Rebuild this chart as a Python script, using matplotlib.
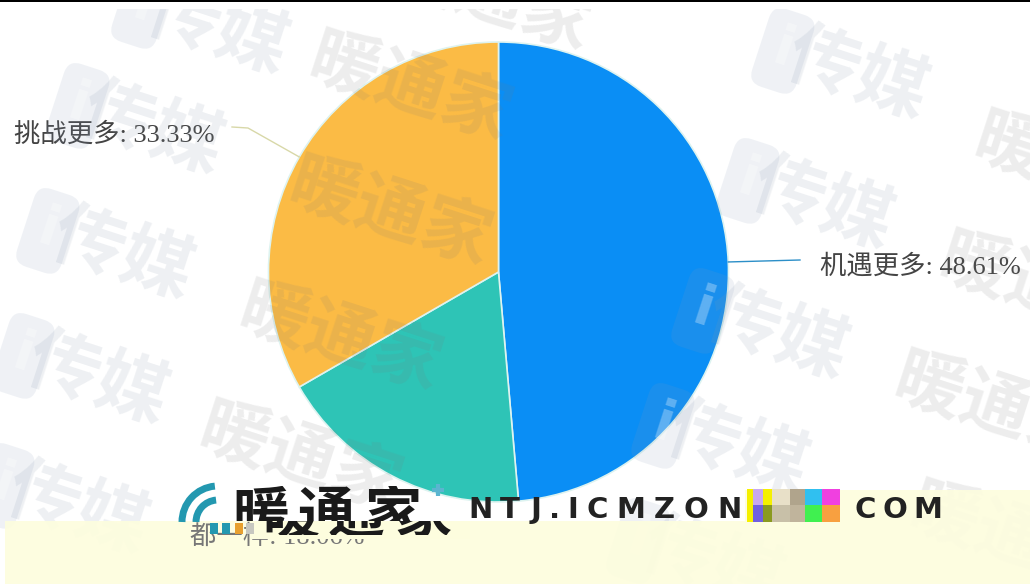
import matplotlib
matplotlib.use('Agg')
import matplotlib.pyplot as plt
import numpy as np
from matplotlib.font_manager import FontProperties
from matplotlib.patches import Arc, Rectangle
from matplotlib.textpath import TextPath

# datos del pastel
categories = ['机遇更多', '都一样', '挑战更多']
values = [48.61, 18.06, 33.33]
colors = ['#0A8EF5', '#2EC4B6', '#FBBB45']

# marcas de agua (px de la imagen)
wm_i = [(195, 30), (130, 130), (100, 255), (75, 380), (55, 510), (835, 75), (800, 205), (755, 335), (715, 450), (690, 565)]
wm_n = [(490, 0), (410, 90), (390, 215), (340, 340), (300, 460), (1075, 170), (1040, 290), (995, 410), (1010, 540)]

# bloques de color rotos del logo
glitch_x = [747, 753, 763, 772, 790, 805, 822]
glitch_w = [6, 10, 9, 18, 15, 17, 18]
glitch_top = ['#F5F000', '#C8A8F0', '#F5F000', '#E8E0C8', '#B0A48C', '#30C0F0', '#F040E0']
glitch_bot = ['#F5F000', '#7060E0', '#8A9A20', '#C8C0A8', '#C0B49C', '#40F050', '#F8A040']

W, H = 1030, 584
BAND = '#FDFDDE'
fig = plt.figure(figsize=(W / 100, H / 100), dpi=100)
ax = fig.add_axes([0, 0, 1, 1])


def py(y):
    return H - y


def logo(x, y, s, size, step, clip_top, clip_bot):
    # caracteres separados y recortados en vertical
    for ch in s:
        t = ax.text(x, py(y), ch, family='Noto Sans CJK SC', fontsize=size, fontweight='bold',
                    color='#1A1A1A', va='baseline', ha='left', zorder=7)
        t.set_clip_on(True)
        t.set_clip_path(Rectangle((0, py(clip_bot)), W, clip_bot - clip_top, transform=ax.transData))
        x += step


def spaced(x, y, s, size, gap):
    fp = FontProperties(family='DejaVu Sans', weight='bold')
    for ch in s:
        ax.text(x, py(y), ch, fontproperties=fp, fontsize=size, color='#222222',
                va='baseline', ha='left', zorder=7)
        x += TextPath((0, 0), ch, size=size * 100 / 72, prop=fp).get_extents().x1 + gap


CJK = ['Liberation Serif', 'Noto Sans CJK SC']
cx, cy, r = 498.5, py(272), 230

ax.pie(values, colors=colors, startangle=90, counterclock=False,
       center=(cx, cy), radius=r, frame=True,
       wedgeprops=dict(edgecolor='#DDF3F0', linewidth=1.2))
ax.set_xlim(0, W)
ax.set_ylim(0, H)
ax.set_aspect('auto')
ax.axis('off')

# lineas guia y etiquetas
ang = 90 - 3.6 * values[0] / 2
x0, y0 = cx + r * np.cos(np.radians(ang)), cy + r * np.sin(np.radians(ang))
ax.plot([x0, 800], [y0, py(260)], color='#2C8FC8', lw=1)
ax.text(820, py(266), f'{categories[0]}: {values[0]}%', family=CJK, fontsize=19,
        color='#444444', va='center', ha='left')

ang = 90 + 3.6 * values[2] / 2
x0, y0 = cx + r * np.cos(np.radians(ang)), cy + r * np.sin(np.radians(ang))
ax.plot([x0, 248, 232], [y0, py(128), py(127)], color='#D8D8A8', lw=1)
ax.text(14, py(135), f'{categories[2]}: {values[2]}%', family=CJK, fontsize=19,
        color='#444444', va='center', ha='left')

# marcas de agua
rot = np.radians(-18)
for x, y in wm_i:
    dx, dy = -78 * np.cos(rot), -78 * np.sin(rot)
    ax.text(x + 22, py(y), '传媒', family='Noto Sans CJK SC', fontsize=52, fontweight='bold',
            color='#8898AA', alpha=0.14, rotation=-18, ha='center', va='center')
    ax.text(x + 22 + dx, py(y) + dy, 'i', family='DejaVu Sans', fontsize=40, fontweight='bold',
            color=(1, 1, 1, 0.3), rotation=-18, ha='center', va='center',
            bbox=dict(boxstyle='round,pad=0.25', fc=(0.53, 0.6, 0.72, 0.13), lw=0))
for x, y in wm_n:
    ax.text(x, py(y), '暖通家', family='Noto Sans CJK SC', fontsize=50, fontweight='bold',
            color='#777777', alpha=0.13, rotation=-18, ha='center', va='center')

# margen blanco arriba
ax.add_patch(Rectangle((0, py(9)), W, 9, color='white', lw=0, zorder=4))

# banda amarilla inferior
ax.add_patch(Rectangle((5, 0), W - 5, py(521), color=BAND, alpha=0.93, lw=0, zorder=5))
ax.add_patch(Rectangle((745, py(521)), W - 745, 31, color=BAND, alpha=0.93, lw=0, zorder=5))

ax.text(190, py(537), f'{categories[1]}: {values[1]}%', family=CJK, fontsize=19,
        color='#777777', va='center', ha='left', zorder=6)
ax.add_patch(Rectangle((250, py(539)), 220, 18, color=BAND, lw=0, zorder=6))

# logo: parte de arriba y tira desplazada debajo
logo(232, 533, '暖通家', 41, 66, 486, 521)
logo(262, 533, '暖通家', 41, 66, 521, 535)
spaced(468, 518, 'NTJ.ICMZON', 21, 10.5)
spaced(855, 518, 'COM', 21, 8)

# icono de ondas
for rad, lw in [(36, 5), (22, 5)]:
    ax.add_patch(Arc((218, py(522)), 2 * rad, 2 * rad, theta1=95, theta2=180,
                     color='#2398B0', lw=lw, zorder=7))
ax.scatter([438], [py(490)], marker='+', s=70, color='#5BB5D0', lw=3, zorder=7)
for x, c in zip([210, 222, 235, 246], ['#2398B0', '#2398B0', '#E8A030', '#C8C8C0']):
    ax.add_patch(Rectangle((x, py(534)), 8, 11, color=c, lw=0, zorder=8))

# bloques rotos
for x, w, ct, cb in zip(glitch_x, glitch_w, glitch_top, glitch_bot):
    ax.add_patch(Rectangle((x, py(505)), w, 16, color=ct, lw=0, zorder=8))
    ax.add_patch(Rectangle((x, py(522)), w, 17, color=cb, lw=0, zorder=8))

# linea negra superior
ax.add_patch(Rectangle((0, py(1.5)), W, 1.5, color='black', lw=0, zorder=9))

fig.savefig('out.png', dpi=100)
